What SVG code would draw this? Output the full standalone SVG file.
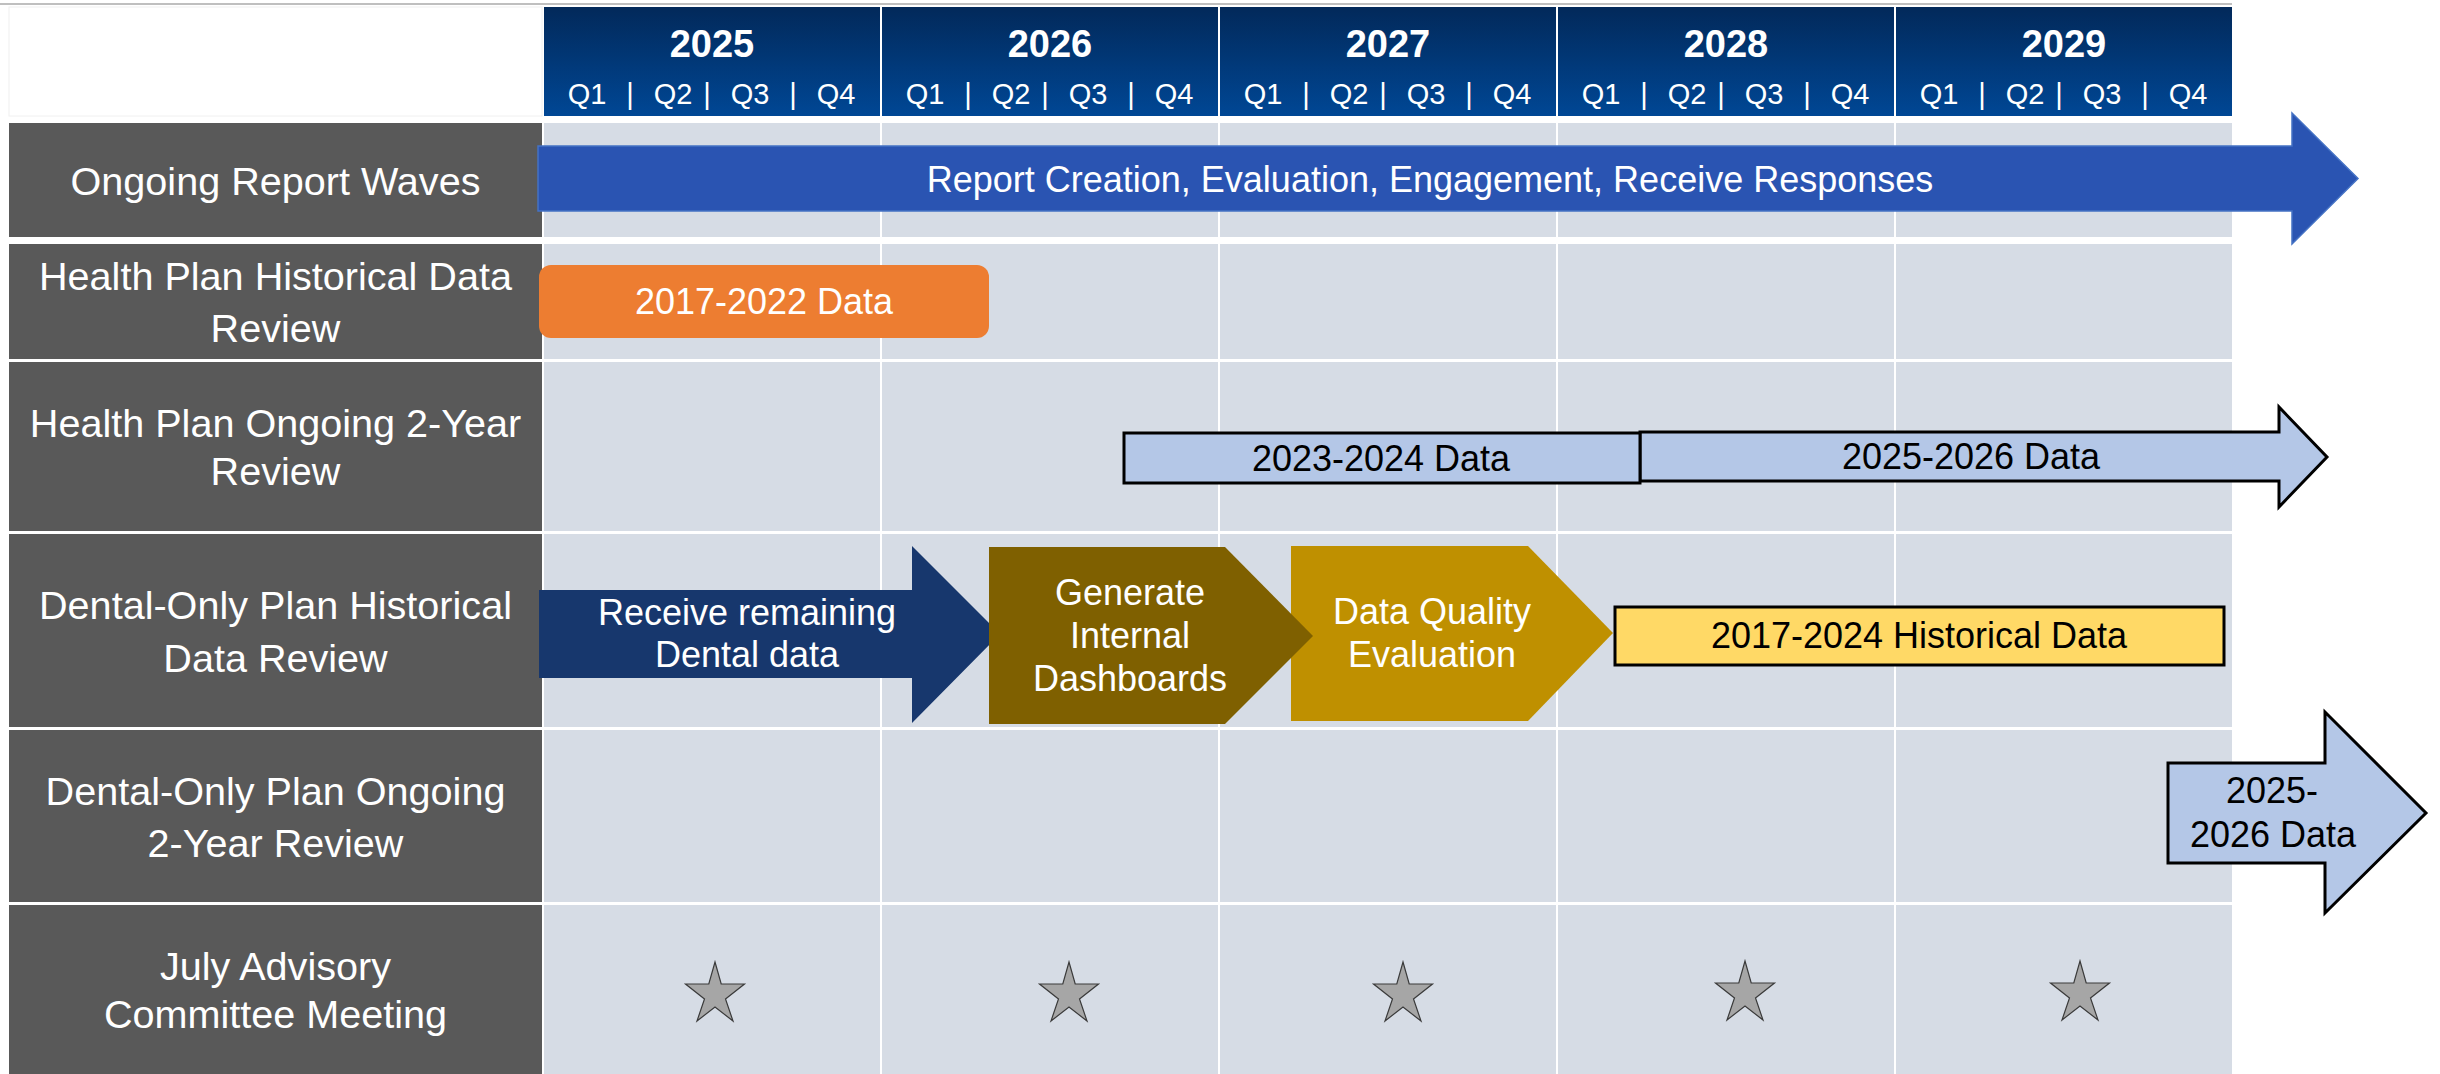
<svg xmlns="http://www.w3.org/2000/svg" xmlns:xlink="http://www.w3.org/1999/xlink" width="2440" height="1074" viewBox="0 0 2440 1074">
<defs>
<linearGradient id="hdr" x1="0" y1="0" x2="0" y2="1">
<stop offset="0" stop-color="#02295a"/>
<stop offset="1" stop-color="#004795"/>
</linearGradient>
<path id="star" d="M0,0 L6.2,22 L29.5,22 L10.5,37 L18,59 L0,45 L-18,59 L-10.5,37 L-29.5,22 L-6.2,22 Z"/>
</defs>
<style>
text{font-family:"Liberation Sans",Arial,sans-serif;}
.lbl{fill:#595959;}
.cell{fill:#d6dce5;}
.hdr{fill:url(#hdr);}
.lt{fill:#ffffff;font-size:39.6px;text-anchor:middle;}
.yr{fill:#ffffff;font-size:38px;font-weight:bold;text-anchor:middle;}
.q{fill:#ffffff;font-size:29px;text-anchor:middle;}
.wt{fill:#ffffff;font-size:36px;text-anchor:middle;}
.bt{fill:#000000;font-size:36px;text-anchor:middle;}
.star{fill:#a6a6a6;stroke:#3a3a3a;stroke-width:1.2;stroke-linejoin:miter;}
</style>
<rect x="0" y="0" width="2440" height="1074" fill="#ffffff"/>
<line x1="0" y1="4" x2="2232" y2="4" stroke="#bfbfbf" stroke-width="2"/>

<g id="header">
<rect x="9" y="7" width="533" height="109" fill="#ffffff" stroke="#f0f0f0" stroke-width="1"/>
<rect class="hdr" x="544" y="7" width="336" height="109"/>
<rect class="hdr" x="882" y="7" width="336" height="109"/>
<rect class="hdr" x="1220" y="7" width="336" height="109"/>
<rect class="hdr" x="1558" y="7" width="336" height="109"/>
<rect class="hdr" x="1896" y="7" width="336" height="109"/>
<text class="yr" x="712" y="57">2025</text>
<text class="yr" x="1050" y="57">2026</text>
<text class="yr" x="1388" y="57">2027</text>
<text class="yr" x="1726" y="57">2028</text>
<text class="yr" x="2064" y="57">2029</text>
<text class="q" y="104"><tspan x="587">Q1</tspan><tspan x="630">|</tspan><tspan x="673">Q2</tspan><tspan x="707">|</tspan><tspan x="750">Q3</tspan><tspan x="793">|</tspan><tspan x="836">Q4</tspan></text>
<text class="q" y="104"><tspan x="925">Q1</tspan><tspan x="968">|</tspan><tspan x="1011">Q2</tspan><tspan x="1045">|</tspan><tspan x="1088">Q3</tspan><tspan x="1131">|</tspan><tspan x="1174">Q4</tspan></text>
<text class="q" y="104"><tspan x="1263">Q1</tspan><tspan x="1306">|</tspan><tspan x="1349">Q2</tspan><tspan x="1383">|</tspan><tspan x="1426">Q3</tspan><tspan x="1469">|</tspan><tspan x="1512">Q4</tspan></text>
<text class="q" y="104"><tspan x="1601">Q1</tspan><tspan x="1644">|</tspan><tspan x="1687">Q2</tspan><tspan x="1721">|</tspan><tspan x="1764">Q3</tspan><tspan x="1807">|</tspan><tspan x="1850">Q4</tspan></text>
<text class="q" y="104"><tspan x="1939">Q1</tspan><tspan x="1982">|</tspan><tspan x="2025">Q2</tspan><tspan x="2059">|</tspan><tspan x="2102">Q3</tspan><tspan x="2145">|</tspan><tspan x="2188">Q4</tspan></text>
</g>

<g id="grid">
<g id="row1">
<rect class="lbl" x="9" y="123" width="533" height="114"/>
<rect class="cell" x="544" y="123" width="336" height="114"/><rect class="cell" x="882" y="123" width="336" height="114"/><rect class="cell" x="1220" y="123" width="336" height="114"/><rect class="cell" x="1558" y="123" width="336" height="114"/><rect class="cell" x="1896" y="123" width="336" height="114"/>
<text class="lt" x="275.5" y="195">Ongoing Report Waves</text>
</g>
<g id="row2">
<rect class="lbl" x="9" y="244" width="533" height="115"/>
<rect class="cell" x="544" y="244" width="336" height="115"/><rect class="cell" x="882" y="244" width="336" height="115"/><rect class="cell" x="1220" y="244" width="336" height="115"/><rect class="cell" x="1558" y="244" width="336" height="115"/><rect class="cell" x="1896" y="244" width="336" height="115"/>
<text class="lt" x="275.5" y="290">Health Plan Historical Data</text>
<text class="lt" x="275.5" y="342">Review</text>
</g>
<g id="row3">
<rect class="lbl" x="9" y="362" width="533" height="169"/>
<rect class="cell" x="544" y="362" width="336" height="169"/><rect class="cell" x="882" y="362" width="336" height="169"/><rect class="cell" x="1220" y="362" width="336" height="169"/><rect class="cell" x="1558" y="362" width="336" height="169"/><rect class="cell" x="1896" y="362" width="336" height="169"/>
<text class="lt" x="275.5" y="437">Health Plan Ongoing 2-Year</text>
<text class="lt" x="275.5" y="485">Review</text>
</g>
<g id="row4">
<rect class="lbl" x="9" y="534" width="533" height="193"/>
<rect class="cell" x="544" y="534" width="336" height="193"/><rect class="cell" x="882" y="534" width="336" height="193"/><rect class="cell" x="1220" y="534" width="336" height="193"/><rect class="cell" x="1558" y="534" width="336" height="193"/><rect class="cell" x="1896" y="534" width="336" height="193"/>
<text class="lt" x="275.5" y="619">Dental-Only Plan Historical</text>
<text class="lt" x="275.5" y="672">Data Review</text>
</g>
<g id="row5">
<rect class="lbl" x="9" y="730" width="533" height="172"/>
<rect class="cell" x="544" y="730" width="336" height="172"/><rect class="cell" x="882" y="730" width="336" height="172"/><rect class="cell" x="1220" y="730" width="336" height="172"/><rect class="cell" x="1558" y="730" width="336" height="172"/><rect class="cell" x="1896" y="730" width="336" height="172"/>
<text class="lt" x="275.5" y="805">Dental-Only Plan Ongoing</text>
<text class="lt" x="275.5" y="857">2-Year Review</text>
</g>
<g id="row6">
<rect class="lbl" x="9" y="905" width="533" height="169"/>
<rect class="cell" x="544" y="905" width="336" height="169"/><rect class="cell" x="882" y="905" width="336" height="169"/><rect class="cell" x="1220" y="905" width="336" height="169"/><rect class="cell" x="1558" y="905" width="336" height="169"/><rect class="cell" x="1896" y="905" width="336" height="169"/>
<text class="lt" x="275.5" y="980">July Advisory</text>
<text class="lt" x="275.5" y="1028">Committee Meeting</text>
</g>
</g>

<g id="connectors">
<g id="report-waves">
<path d="M538,146 L2292,146 L2292,113 L2358,178.5 L2292,244 L2292,211 L538,211 Z" fill="#2a54b2" stroke="#4472c4" stroke-width="1.5"/>
<text class="wt" x="1430" y="192">Report Creation, Evaluation, Engagement, Receive Responses</text>
</g>
<g id="hp-2017-2022">
<rect x="539" y="265" width="450" height="73" rx="12" ry="12" fill="#ed7d31"/>
<text class="wt" x="764" y="314">2017-2022 Data</text>
</g>
<g id="hp-2025-2026">
<path d="M1640,432 L2279,432 L2279,407 L2327,457 L2279,507 L2279,481 L1640,481 Z" fill="#b4c7e7" stroke="#000000" stroke-width="3" stroke-linejoin="miter"/>
<text class="bt" x="1971" y="469">2025-2026 Data</text>
</g>
<g id="hp-2023-2024">
<rect x="1124" y="433" width="516" height="50" fill="#b4c7e7" stroke="#000000" stroke-width="3"/>
<text class="bt" x="1381" y="471">2023-2024 Data</text>
</g>
<g id="dental-receive">
<path d="M539,590 L912,590 L912,546 L1000,634 L912,723 L912,678 L539,678 Z" fill="#17376d"/>
<text class="wt" x="747" y="625">Receive remaining</text>
<text class="wt" x="747" y="667">Dental data</text>
</g>
<g id="dental-quality">
<path d="M1291,546 L1528,546 L1613,633 L1528,721 L1291,721 Z" fill="#bf9000"/>
<text class="wt" x="1432" y="624">Data Quality</text>
<text class="wt" x="1432" y="667">Evaluation</text>
</g>
<g id="dental-dashboards">
<path d="M989,547 L1225,547 L1313,636 L1225,724 L989,724 Z" fill="#7f6000"/>
<text class="wt" x="1130" y="605">Generate</text>
<text class="wt" x="1130" y="648">Internal</text>
<text class="wt" x="1130" y="691">Dashboards</text>
</g>
<g id="dental-historical">
<rect x="1615" y="607" width="609" height="58" fill="#ffd966" stroke="#000000" stroke-width="3"/>
<text class="bt" x="1919" y="648">2017-2024 Historical Data</text>
</g>
<g id="dental-ongoing">
<path d="M2168,763 L2325,763 L2325,712 L2426,813 L2325,913 L2325,863 L2168,863 Z" fill="#b4c7e7" stroke="#000000" stroke-width="3" stroke-linejoin="miter"/>
<text class="bt" x="2272" y="803">2025-</text>
<text class="bt" x="2273" y="847">2026 Data</text>
</g>
</g>

<g id="stars">
<use xlink:href="#star" href="#star" class="star" transform="translate(715,962)"/>
<use xlink:href="#star" href="#star" class="star" transform="translate(1069,962)"/>
<use xlink:href="#star" href="#star" class="star" transform="translate(1403,962)"/>
<use xlink:href="#star" href="#star" class="star" transform="translate(1745,961)"/>
<use xlink:href="#star" href="#star" class="star" transform="translate(2080,961)"/>
</g>
</svg>
